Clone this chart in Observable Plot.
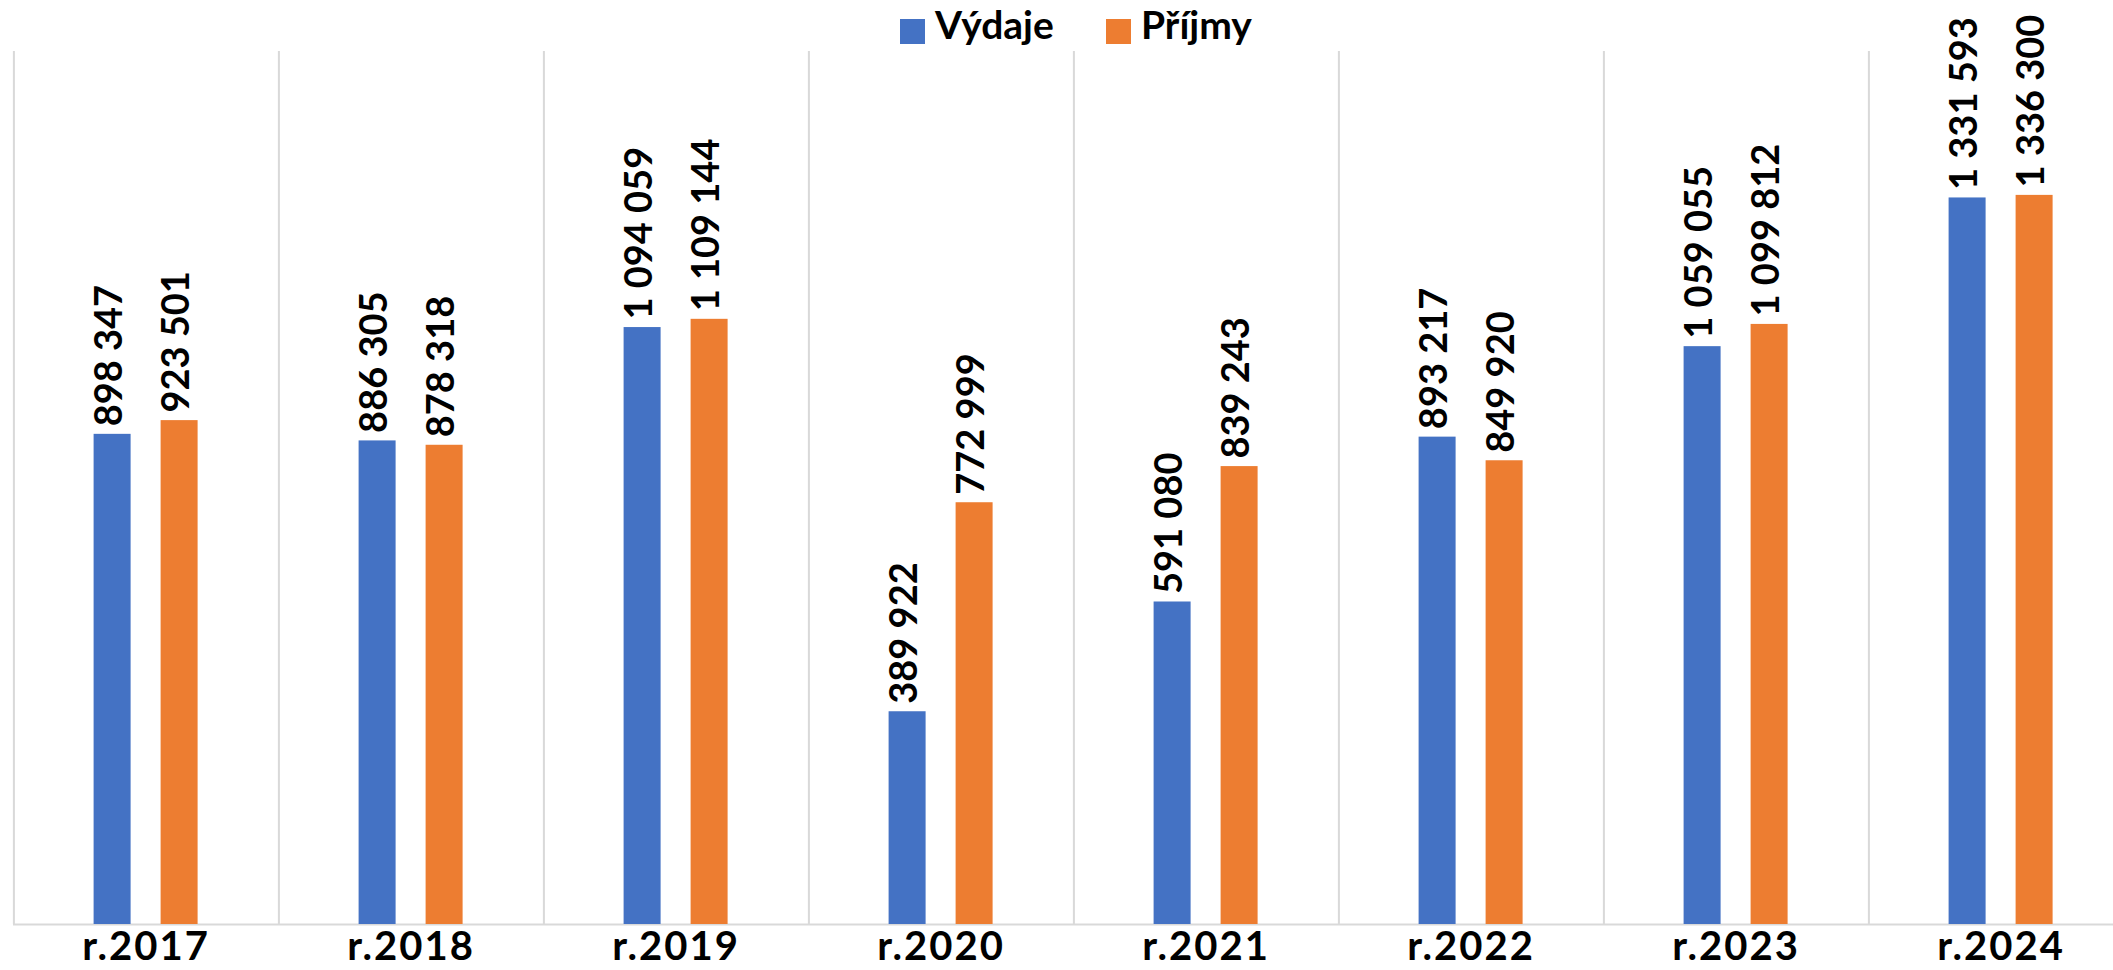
<!DOCTYPE html>
<html>
<head>
<meta charset="utf-8">
<script src="https://cdn.jsdelivr.net/npm/d3@7"></script>
<script src="https://cdn.jsdelivr.net/npm/@observablehq/plot@0.6"></script>
<style>
  html, body { margin: 0; padding: 0; background: #fff; }
  #wrap { width: 2113px; height: 970px; overflow: hidden; position: relative; font-family: Lato, sans-serif; }
  #legend { height: 48px; position: relative; font-weight: bold; font-size: 39px; color: #000; }
  #legend .item { position: absolute; top: 0; height: 48px; display: flex; align-items: center; }
  #legend .sw { width: 25px; height: 25px; margin-right: 10px; margin-top: 14px; }
  #legend .lbl { margin-top: -1px; }
  svg { display: block; overflow: visible; }
</style>
</head>
<body>
<div id="wrap">
  <div id="legend"></div>
  <div id="chart"></div>
</div>
<script>
const years = ["r.2017", "r.2018", "r.2019", "r.2020", "r.2021", "r.2022", "r.2023", "r.2024"];
const series = ["Výdaje", "Příjmy"];
const colors = ["#4472C4", "#ED7D31"];
const vydaje = [898347, 886305, 1094059, 389922, 591080, 893217, 1059055, 1331593];
const prijmy = [923501, 878318, 1109144, 772999, 839243, 849920, 1099812, 1336300];

const data = [];
years.forEach((y, i) => {
  data.push({year: y, series: series[0], value: vydaje[i]});
  data.push({year: y, series: series[1], value: prijmy[i]});
});

const fmt = v => d3.format(",")(v).replace(/,/g, " ");

// legend
const legend = document.getElementById("legend");
const legendPos = [900, 1106];
series.forEach((s, i) => {
  const it = document.createElement("div");
  it.className = "item";
  it.style.left = legendPos[i] + "px";
  it.innerHTML = `<div class="sw" style="background:${colors[i]}"></div><div class="lbl">${s}</div>`;
  legend.appendChild(it);
});

const chart = Plot.plot({
  width: 2113,
  height: 922,
  marginTop: 3,
  marginBottom: 46,
  marginLeft: 12.4,
  marginRight: -20,
  style: {fontFamily: "Lato, sans-serif", fontSize: "40px", fontWeight: "bold", color: "#000", background: "transparent", overflow: "visible"},
  fx: {domain: years, padding: 0, label: null, tickSize: 0, tickPadding: 7, axis: "bottom"},
  x: {domain: series, paddingInner: 0.45, paddingOuter: 1.185, axis: null},
  y: {domain: [0, 1600000], axis: null},
  color: {domain: series, range: colors},
  marks: [
    Plot.ruleX([series[0]], {x: d => d, dx: -98.7, stroke: "#d9d9d9", strokeWidth: 2}),
    Plot.ruleY([0], {stroke: "#d9d9d9", strokeWidth: 2}),
    Plot.barY(data, {fx: "year", x: "series", y: "value", fill: "series"}),
    Plot.text(data, {
      fx: "year", x: "series", y: "value",
      text: d => fmt(d.value),
      rotate: -90, textAnchor: "start", dx: -3, dy: -8,
      fontSize: 38, fontWeight: "bold", fill: "#000"
    })
  ]
});
d3.select(chart).selectAll("text")
  .filter(function() { return years.includes(this.textContent.trim()); })
  .style("letter-spacing", "2px")
  .style("font-size", "40px");
document.getElementById("chart").appendChild(chart);
</script>
</body>
</html>
